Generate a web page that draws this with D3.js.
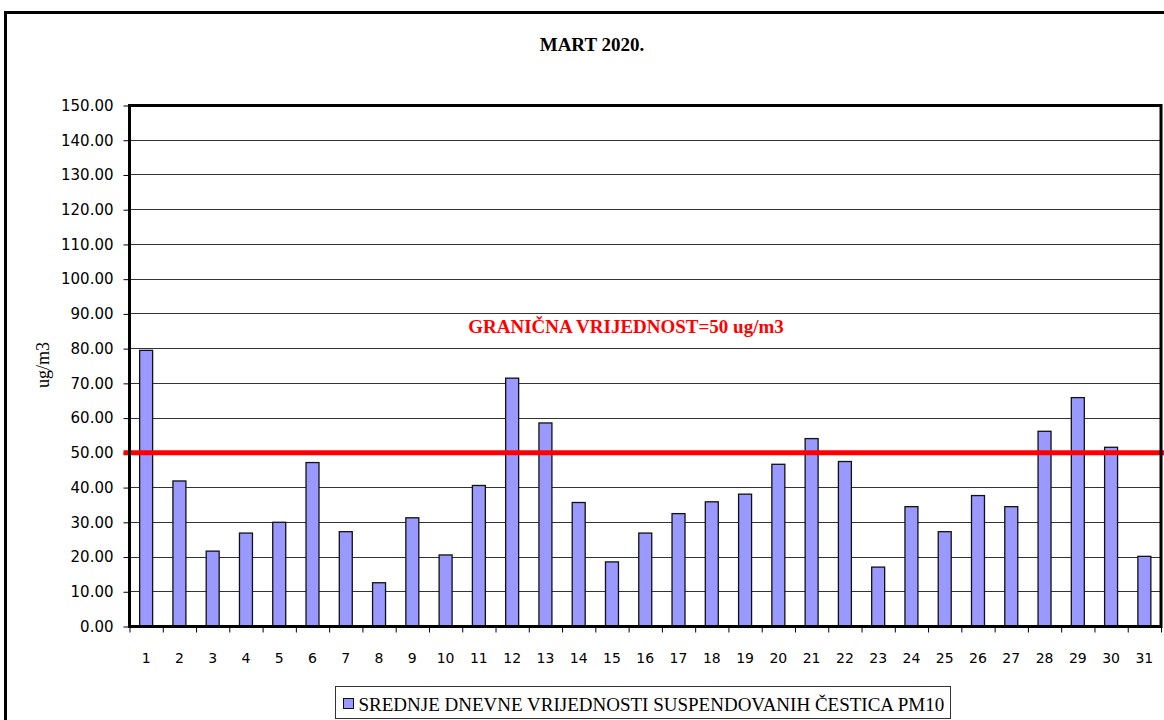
<!DOCTYPE html>
<html>
<head>
<meta charset="utf-8">
<script src="https://cdn.jsdelivr.net/npm/d3@7"></script>
<style>
  body { margin: 0; background: #fff; }
  svg text { fill: #000; }
  .grid-line { stroke: #333; stroke-width: 1; shape-rendering: crispEdges; }
</style>
</head>
<body>
<div id="chart"></div>
<script>
// days of the month
var days = d3.range(1, 32).map(String);
// daily mean PM10 values (ug/m3)
var pm10 = [79.5, 41.9, 21.7, 26.9, 30.0, 47.2, 27.3, 12.6, 31.3, 20.6,
            40.6, 71.5, 58.6, 35.7, 18.6, 26.9, 32.5, 35.9, 38.1, 46.7,
            54.1, 47.5, 17.1, 34.5, 27.3, 37.7, 34.5, 56.2, 65.9, 51.6, 20.2];
var yTicks = d3.range(0, 151, 10);
var limitValue = 50;
var titleText = "MART 2020.";
var limitLabel = "GRANIČNA VRIJEDNOST=50 ug/m3";
var yTitle = "ug/m3";
var legendLabel = "SREDNJE DNEVNE VRIJEDNOSTI SUSPENDOVANIH ČESTICA PM10";

var _width = 1164, _height = 720,
  _margins = {top: 105.5, left: 129.5, right: 3, bottom: 93.5};
var innerW = _width - _margins.left - _margins.right,
  innerH = _height - _margins.top - _margins.bottom;

var svg = d3.select("#chart").append("svg")
  .attr("width", _width)
  .attr("height", _height);

// outer chart frame
svg.append("rect")
  .attr("x", 5.5).attr("y", 12.5)
  .attr("width", 1200).attr("height", 800)
  .attr("fill", "none").attr("stroke", "#000").attr("stroke-width", 3);

svg.append("text")
  .attr("x", 592).attr("y", 51)
  .attr("text-anchor", "middle")
  .style("font-family", "'Liberation Serif', serif")
  .style("font-weight", "bold")
  .style("font-size", "19px")
  .text(titleText);

var _x = d3.scaleBand().domain(days).range([0, innerW]).paddingInner(0.61).paddingOuter(0.305);
var _xb = d3.scaleLinear().domain([0, days.length]).range([0, innerW]);
var _y = d3.scaleLinear().domain([0, 150]).range([innerH, 0]);

var g = svg.append("g")
  .attr("transform", "translate(" + _margins.left + "," + _margins.top + ")");

// gridlines
g.selectAll("line.grid-line")
  .data(yTicks)
  .enter().append("line")
  .attr("class", "grid-line")
  .attr("x1", 0).attr("x2", innerW)
  .attr("y1", function (d) { return Math.round(_y(d)); })
  .attr("y2", function (d) { return Math.round(_y(d)); });

// y axis
var yAxis = d3.axisLeft(_y).tickValues(yTicks).tickSize(6).tickPadding(10)
  .tickFormat(d3.format(".2f"));
g.append("g")
  .attr("class", "y axis")
  .call(yAxis)
  .call(function (a) {
    a.select(".domain").remove();
    a.selectAll(".tick line").attr("stroke", "#000");
    a.selectAll(".tick text")
      .style("font-family", "'DejaVu Sans', sans-serif")
      .style("font-size", "15px")
      .attr("fill", "#222");
  });

// bars
g.selectAll("rect.bar")
  .data(pm10)
  .enter().append("rect")
  .attr("class", "bar")
  .attr("x", function (d, i) { return _x(days[i]); })
  .attr("width", _x.bandwidth())
  .attr("y", function (d) { return _y(d); })
  .attr("height", function (d) { return innerH - _y(d); })
  .attr("fill", "#9999ff")
  .attr("stroke", "#111")
  .attr("stroke-width", 1.3);

// x axis ticks between categories
var xAxis = d3.axisBottom(_xb).tickValues(d3.range(0, days.length + 1)).tickSize(6).tickFormat("");
g.append("g")
  .attr("class", "x axis")
  .attr("transform", "translate(0," + innerH + ")")
  .call(xAxis)
  .call(function (a) {
    a.select(".domain").remove();
    a.selectAll(".tick line").attr("stroke", "#000");
  });

g.selectAll("text.xlabel")
  .data(days)
  .enter().append("text")
  .attr("class", "xlabel")
  .attr("x", function (d) { return _x(d) + _x.bandwidth() / 2; })
  .attr("y", innerH + 36)
  .attr("text-anchor", "middle")
  .style("font-family", "'DejaVu Sans', sans-serif")
  .style("font-size", "14px")
  .attr("fill", "#222")
  .text(function (d) { return d; });

// limit line
g.append("line")
  .attr("x1", -6).attr("x2", innerW + 10)
  .attr("y1", _y(limitValue)).attr("y2", _y(limitValue))
  .attr("stroke", "#ff0000").attr("stroke-width", 5);

g.append("text")
  .attr("x", 626 - _margins.left).attr("y", _y(limitValue) - 120)
  .attr("text-anchor", "middle")
  .style("font-family", "'Liberation Serif', serif")
  .style("font-weight", "bold")
  .style("font-size", "19px")
  .style("fill", "#ff0000")
  .text(limitLabel);

// plot border
g.append("rect")
  .attr("x", 0).attr("y", 0)
  .attr("width", innerW).attr("height", innerH)
  .attr("fill", "none").attr("stroke", "#000").attr("stroke-width", 3);

// y title
svg.append("text")
  .attr("transform", "translate(49,365) rotate(-90)")
  .attr("text-anchor", "middle")
  .style("font-family", "'Liberation Serif', serif")
  .style("font-size", "18px")
  .text(yTitle);

// legend
var legend = svg.append("g").attr("transform", "translate(335.5,686.5)");
legend.append("rect")
  .attr("width", 615).attr("height", 32)
  .attr("fill", "#fff").attr("stroke", "#333").attr("stroke-width", 1);
legend.append("rect")
  .attr("x", 8).attr("y", 12).attr("width", 10).attr("height", 10)
  .attr("fill", "#9999ff").attr("stroke", "#111").attr("stroke-width", 1);
legend.append("text")
  .attr("x", 23).attr("y", 24)
  .style("font-family", "'Liberation Serif', serif")
  .style("font-size", "19px")
  .text(legendLabel);
</script>
</body>
</html>
